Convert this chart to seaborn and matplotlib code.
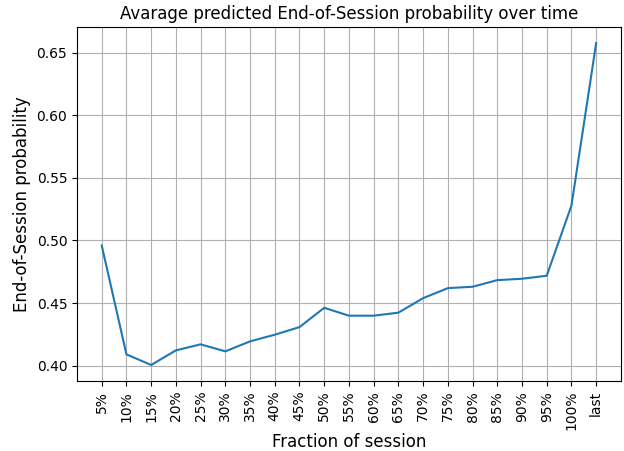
import pandas as pd
import matplotlib
matplotlib.use("Agg")
import matplotlib.pyplot as plt
import seaborn as sns

# fraction of session labels
fractions = ["5%", "10%", "15%", "20%", "25%", "30%", "35%", "40%", "45%", "50%",
             "55%", "60%", "65%", "70%", "75%", "80%", "85%", "90%", "95%", "100%", "last"]

# average predicted end-of-session probability
eos_prob = [0.496, 0.409, 0.4005, 0.4122, 0.417, 0.4114, 0.4194, 0.4247, 0.4308, 0.4462,
            0.4399, 0.4399, 0.4423, 0.4539, 0.4619, 0.463, 0.4683, 0.4694, 0.4718, 0.5278, 0.6576]

df = pd.DataFrame({"fraction": fractions, "prob": eos_prob})

fig, ax = plt.subplots(figsize=(6.24, 4.51), dpi=100)
sns.lineplot(x="fraction", y="prob", data=df, sort=False, color="#1f77b4", linewidth=1.5, ax=ax)
ax.grid(True, color="#b0b0b0", linewidth=0.8)
ax.set_title("Avarage predicted End-of-Session probability over time", fontsize=12)
ax.set_xlabel("Fraction of session", fontsize=12, labelpad=2)
ax.set_ylabel("End-of-Session probability", fontsize=12)
plt.xticks(rotation=90)
plt.subplots_adjust(left=0.1234, right=0.995, top=0.94, bottom=0.155)
plt.savefig("out.png", dpi=100)
